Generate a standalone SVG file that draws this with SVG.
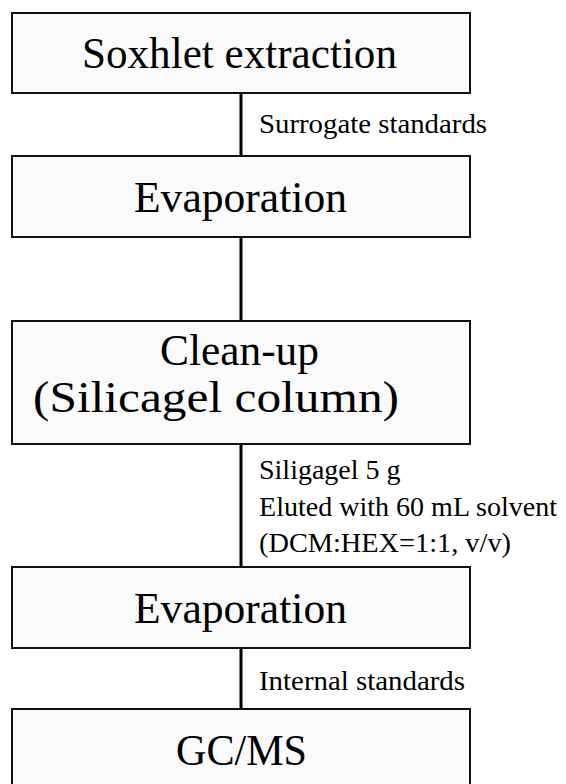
<svg xmlns="http://www.w3.org/2000/svg" width="566" height="784" viewBox="0 0 566 784">
  <style>
    .box { fill: #fafafa; stroke: #111; stroke-width: 2; }
    .main { font-family: "Liberation Serif", "Times New Roman", serif; font-size: 45px; fill: #000; }
    .lbl { font-family: "Liberation Serif", "Times New Roman", serif; font-size: 28px; fill: #000; }
    .conn { stroke: #000; stroke-width: 3; fill: none; }
  </style>
  <rect width="566" height="784" fill="#ffffff"/>
  <g id="connectors">
    <line class="conn" x1="241" y1="93" x2="241" y2="156"/>
    <line class="conn" x1="241" y1="237" x2="241" y2="321"/>
    <line class="conn" x1="241" y1="444" x2="241" y2="567"/>
    <line class="conn" x1="241" y1="648" x2="241" y2="709"/>
    <text class="lbl" x="259" y="133" textLength="228" lengthAdjust="spacingAndGlyphs">Surrogate standards</text>
    <text class="lbl" x="259" y="479">Siligagel 5 g</text>
    <text class="lbl" x="259" y="516" textLength="298" lengthAdjust="spacingAndGlyphs">Eluted with 60 mL solvent</text>
    <text class="lbl" x="259" y="552" textLength="252" lengthAdjust="spacingAndGlyphs">(DCM:HEX=1:1, v/v)</text>
    <text class="lbl" x="259" y="690" textLength="206" lengthAdjust="spacingAndGlyphs">Internal standards</text>
  </g>
  <g id="soxhlet">
    <rect class="box" x="12" y="13" width="458" height="80"/>
    <text class="main" x="82" y="68" textLength="315" lengthAdjust="spacingAndGlyphs">Soxhlet extraction</text>
  </g>
  <g id="evaporation1">
    <rect class="box" x="12" y="156" width="458" height="81"/>
    <text class="main" x="134" y="212" textLength="213" lengthAdjust="spacingAndGlyphs">Evaporation</text>
  </g>
  <g id="cleanup">
    <rect class="box" x="12" y="321" width="458" height="123"/>
    <text class="main" x="160" y="365" textLength="159" lengthAdjust="spacingAndGlyphs">Clean-up</text>
    <text class="main" x="33" y="412" textLength="366" lengthAdjust="spacingAndGlyphs">(Silicagel column)</text>
  </g>
  <g id="evaporation2">
    <rect class="box" x="12" y="567" width="458" height="81"/>
    <text class="main" x="134" y="623" textLength="213" lengthAdjust="spacingAndGlyphs">Evaporation</text>
  </g>
  <g id="gcms">
    <rect class="box" x="12" y="709" width="458" height="82"/>
    <text class="main" x="176" y="765" textLength="131" lengthAdjust="spacingAndGlyphs">GC/MS</text>
  </g>
</svg>
